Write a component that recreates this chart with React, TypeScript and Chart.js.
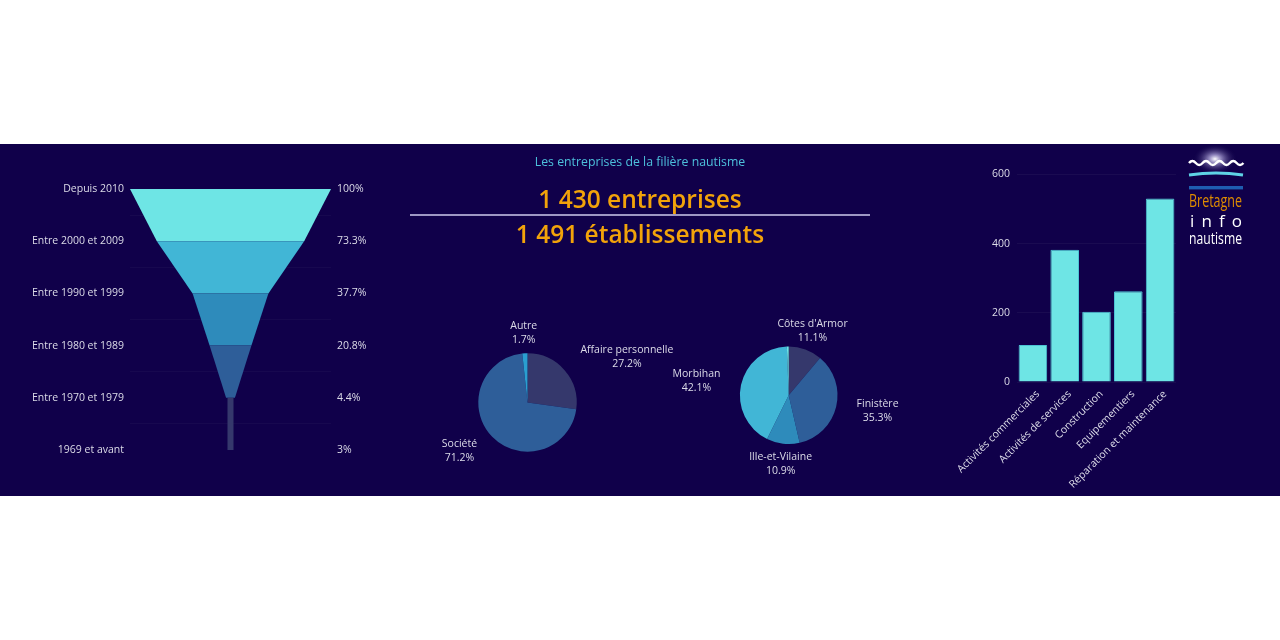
import React, { useEffect, useRef } from "react";
import { Chart, registerables } from "chart.js";

Chart.register(...registerables);

// ---------- DATA ----------
const FUNNEL_LABELS = [
  "Depuis 2010",
  "Entre 2000 et 2009",
  "Entre 1990 et 1999",
  "Entre 1980 et 1989",
  "Entre 1970 et 1979",
  "1969 et avant",
];
const FUNNEL_VALUES = [100, 73.3, 37.7, 20.8, 4.4, 3];
const FUNNEL_PCT_LABELS = FUNNEL_VALUES.map((v) => `${v}%`);

const FORME_LABELS = ["Affaire personnelle", "Société", "Autre"];
const FORME_VALUES = [27.2, 71.2, 1.7];

const DEPT_LABELS = ["Côtes d'Armor", "Finistère", "Ille-et-Vilaine", "Morbihan", "Non renseigné"];
const DEPT_VALUES = [11.1, 35.3, 10.9, 42.1, 0.6];

const ACT_LABELS = [
  "Activités commerciales",
  "Activités de services",
  "Construction",
  "Equipementiers",
  "Réparation et maintenance",
];
const ACT_VALUES = [107, 382, 203, 262, 530];

const TITLE = "Les entreprises de la filière nautisme";
const KPI_1 = "1 430 entreprises";
const KPI_2 = "1 491 établissements";

// ---------- STYLE ----------
const BG = "#10004a";
const TEXT = "#dcdbe8";
const FONT = "'Open Sans', sans-serif";
const FUNNEL_COLORS = ["#6ee5e5", "#41b6d6", "#2e8bbb", "#2e5e99", "#35386c"];
const FORME_COLORS = ["#35386c", "#2e5e99", "#2a9fd0"];
const DEPT_COLORS = ["#35386c", "#2e5e99", "#2e8bbb", "#41b6d6", "#6ee5e5"];
const BAR_COLOR = "#6ee5e5";

const funnelPlugin = {
  id: "funnelShapes",
  beforeDatasetsDraw(chart: any) {
    const { ctx } = chart;
    const x = chart.scales.x;
    const y = chart.scales.y;
    const n = FUNNEL_VALUES.length;
    ctx.save();
    for (let i = 0; i < n - 1; i++) {
      const top = y.getPixelForValue(i);
      const bot = y.getPixelForValue(i + 1);
      const wTop = i === n - 2 ? FUNNEL_VALUES[n - 1] : FUNNEL_VALUES[i];
      const wBot = FUNNEL_VALUES[i + 1];
      ctx.beginPath();
      ctx.moveTo(x.getPixelForValue(-wTop / 2), top);
      ctx.lineTo(x.getPixelForValue(wTop / 2), top);
      ctx.lineTo(x.getPixelForValue(wBot / 2), bot);
      ctx.lineTo(x.getPixelForValue(-wBot / 2), bot);
      ctx.closePath();
      ctx.fillStyle = FUNNEL_COLORS[i];
      ctx.fill();
    }
    ctx.restore();
  },
};

function makePieLabels(labels: string[], values: number[]) {
  return {
    id: "outsideLabels",
    afterDatasetsDraw(chart: any) {
      const ctx = chart.ctx;
      const meta = chart.getDatasetMeta(0);
      ctx.save();
      ctx.font = `10.5px ${FONT}`;
      ctx.fillStyle = TEXT;
      ctx.textAlign = "center";
      ctx.textBaseline = "middle";
      meta.data.forEach((arc: any, i: number) => {
        const v = values[i];
        if (v < 1) return;
        const p = arc.getProps(["x", "y", "startAngle", "endAngle", "outerRadius"], true);
        const mid = (p.startAngle + p.endAngle) / 2;
        const dx = Math.cos(mid);
        const dy = Math.sin(mid);
        const lines = [labels[i], `${v}%`];
        const w = Math.max(...lines.map((l) => ctx.measureText(l).width));
        const h = 28;
        const px = p.x + dx * (p.outerRadius + 21);
        const py = p.y + dy * (p.outerRadius + 6);
        const s = Math.sign(dx) * Math.min(1, Math.max(0, (Math.abs(dx) - 0.35) / 0.3));
        const cx = px + (s * w) / 2;
        const cy = py + (dy * h) / 2;
        ctx.fillText(lines[0], cx, cy - 7);
        ctx.fillText(lines[1], cx, cy + 7);
      });
      ctx.restore();
    },
  };
}

function pieConfig(labels: string[], values: number[], colors: string[], padding: any) {
  return {
    type: "pie" as const,
    data: {
      labels,
      datasets: [{ data: values, backgroundColor: colors, borderWidth: 0 }],
    },
    options: {
      responsive: false,
      animation: false as const,
      layout: { padding },
      plugins: { legend: { display: false }, tooltip: { enabled: false } },
    },
    plugins: [makePieLabels(labels, values)],
  };
}

export default function App() {
  const funnelRef = useRef<HTMLCanvasElement>(null);
  const pie1Ref = useRef<HTMLCanvasElement>(null);
  const pie2Ref = useRef<HTMLCanvasElement>(null);
  const barRef = useRef<HTMLCanvasElement>(null);

  useEffect(() => {
    Chart.defaults.font.family = FONT;
    Chart.defaults.color = TEXT;
    const charts: Chart[] = [];

    charts.push(
      new Chart(funnelRef.current!, {
        type: "bar",
        data: {
          labels: FUNNEL_LABELS,
          datasets: [
            {
              data: FUNNEL_VALUES.map((v) => [-v / 2, v / 2]) as any,
              backgroundColor: "rgba(0,0,0,0)",
              borderWidth: 0,
            },
          ],
        },
        options: {
          indexAxis: "y",
          responsive: false,
          animation: false,
          layout: { padding: { top: 45, bottom: 46, left: 0, right: 0 } },
          plugins: { legend: { display: false }, tooltip: { enabled: false } },
          scales: {
            x: { type: "linear", min: -50, max: 50, display: false },
            y: {
              type: "category",
              position: "left",
              offset: false,
              grid: { color: "rgba(255,255,255,0.03)", drawTicks: false },
              border: { display: false },
              ticks: { color: TEXT, font: { size: 10.5 }, padding: 6 },
              afterFit: (s: any) => {
                s.width = 130;
              },
            },
            y2: {
              type: "category",
              position: "right",
              labels: FUNNEL_PCT_LABELS,
              offset: false,
              grid: { display: false, drawTicks: false },
              border: { display: false },
              ticks: { color: TEXT, font: { size: 10.5 }, padding: 6 },
              afterFit: (s: any) => {
                s.width = 69;
              },
            },
          },
        },
        plugins: [funnelPlugin],
      } as any)
    );

    charts.push(
      new Chart(
        pie1Ref.current!,
        pieConfig(FORME_LABELS, FORME_VALUES, FORME_COLORS, {
          left: 58.3,
          top: 53.3,
          right: 123.3,
          bottom: 38.3,
        }) as any
      )
    );

    charts.push(
      new Chart(
        pie2Ref.current!,
        pieConfig(DEPT_LABELS, DEPT_VALUES, DEPT_COLORS, {
          left: 79.9,
          top: 46.5,
          right: 82.5,
          bottom: 45.9,
        }) as any
      )
    );

    charts.push(
      new Chart(barRef.current!, {
        type: "bar",
        data: {
          labels: ACT_LABELS,
          datasets: [
            {
              data: ACT_VALUES,
              backgroundColor: BAR_COLOR,
              borderColor: "#4cc4d4",
              borderWidth: 1,
              borderRadius: 1,
              categoryPercentage: 0.9,
              barPercentage: 1,
            },
          ],
        },
        options: {
          responsive: false,
          animation: false,
          layout: { padding: { top: 30.3, right: 14, left: 0, bottom: 0 } },
          plugins: { legend: { display: false }, tooltip: { enabled: false } },
          scales: {
            y: {
              min: 0,
              max: 600,
              ticks: { stepSize: 200, color: TEXT, font: { size: 10.5 }, padding: 7 },
              grid: { color: "rgba(255,255,255,0.045)", drawTicks: false },
              border: { display: false },
              afterFit: (s: any) => {
                s.width = 77;
              },
            },
            x: {
              grid: { display: false, drawTicks: false },
              border: { display: false },
              ticks: {
                color: TEXT,
                font: { size: 10.5 },
                autoSkip: false,
                minRotation: 45,
                maxRotation: 45,
                padding: 6,
                labelOffset: 5,
              },
              afterFit: (s: any) => {
                s.height = 114;
              },
            },
          },
        },
      } as any)
    );

    return () => charts.forEach((c) => c.destroy());
  }, []);

  const abs = (left: number, top: number, w: number, h: number): React.CSSProperties => ({
    position: "absolute",
    left,
    top,
    width: w,
    height: h,
  });

  return (
    <div style={{ position: "absolute", left: 0, top: 0, width: 1280, height: 640, background: "#fff", overflow: "hidden" }}>
      <div style={{ position: "absolute", left: 0, top: 144, width: 1280, height: 352, background: BG }}>
        <canvas ref={funnelRef} width={400} height={352} style={abs(0, 0, 400, 352)} />
        <canvas ref={pie1Ref} width={280} height={190} style={abs(420, 156, 280, 190)} />
        <canvas ref={pie2Ref} width={260} height={190} style={abs(660, 156, 260, 190)} />
        <canvas ref={barRef} width={250} height={352} style={abs(940, 0, 250, 352)} />

        <div
          style={{
            position: "absolute",
            left: 0,
            top: 10,
            width: 1280,
            textAlign: "center",
            fontFamily: FONT,
            fontSize: 12.3,
            lineHeight: "16px",
            color: "#4dc0dc",
          }}
        >
          {TITLE}
        </div>
        <div
          style={{
            position: "absolute",
            left: 0,
            top: 40,
            width: 1280,
            textAlign: "center",
            fontFamily: FONT,
            fontSize: 24.5,
            fontWeight: 600,
            lineHeight: "30px",
            color: "#f2a30a",
          }}
        >
          {KPI_1}
        </div>
        <div style={{ position: "absolute", left: 410, top: 70, width: 460, height: 2, background: "#9e97c4" }} />
        <div
          style={{
            position: "absolute",
            left: 0,
            top: 75,
            width: 1280,
            textAlign: "center",
            fontFamily: FONT,
            fontSize: 24.5,
            fontWeight: 600,
            lineHeight: "30px",
            color: "#f2a30a",
          }}
        >
          {KPI_2}
        </div>

        <svg style={abs(1180, 0, 80, 110)} width={80} height={110} viewBox="0 0 80 110">
          <defs>
            <radialGradient id="glow" cx="0.5" cy="0.5" r="0.5">
              <stop offset="0%" stopColor="#ffffff" stopOpacity="1" />
              <stop offset="30%" stopColor="#d8d0ff" stopOpacity="0.6" />
              <stop offset="100%" stopColor="#10004a" stopOpacity="0" />
            </radialGradient>
          </defs>
          <ellipse cx={35} cy={15} rx={22} ry={15} fill="url(#glow)" />
          <path
            d="M9 19 q3.4 -4 6.8 0 t6.8 0 t6.8 0 t6.8 0 t6.8 0 t6.8 0 t6.8 0 t6.8 0"
            stroke="#ffffff"
            strokeWidth={2.4}
            fill="none"
          />
          <path d="M9 31 q27 -4 54 0" stroke="#5fd3e6" strokeWidth={3} fill="none" />
          <rect x={9} y={42} width={54} height={3.4} fill="#1e5db0" />
          <text x={9} y={63} fontFamily="'Open Sans', sans-serif" fontSize={18.5} fill="#e08c00" textLength={53} lengthAdjust="spacingAndGlyphs">
            Bretagne
          </text>
          <text x={10} y={83} fontFamily="'Open Sans', sans-serif" fontSize={17} fill="#ffffff" textLength={52} lengthAdjust="spacing">
            info
          </text>
          <text x={9} y={99.5} fontFamily="'Open Sans', sans-serif" fontSize={17} fill="#ffffff" textLength={53} lengthAdjust="spacingAndGlyphs">
            nautisme
          </text>
        </svg>
      </div>
    </div>
  );
}
